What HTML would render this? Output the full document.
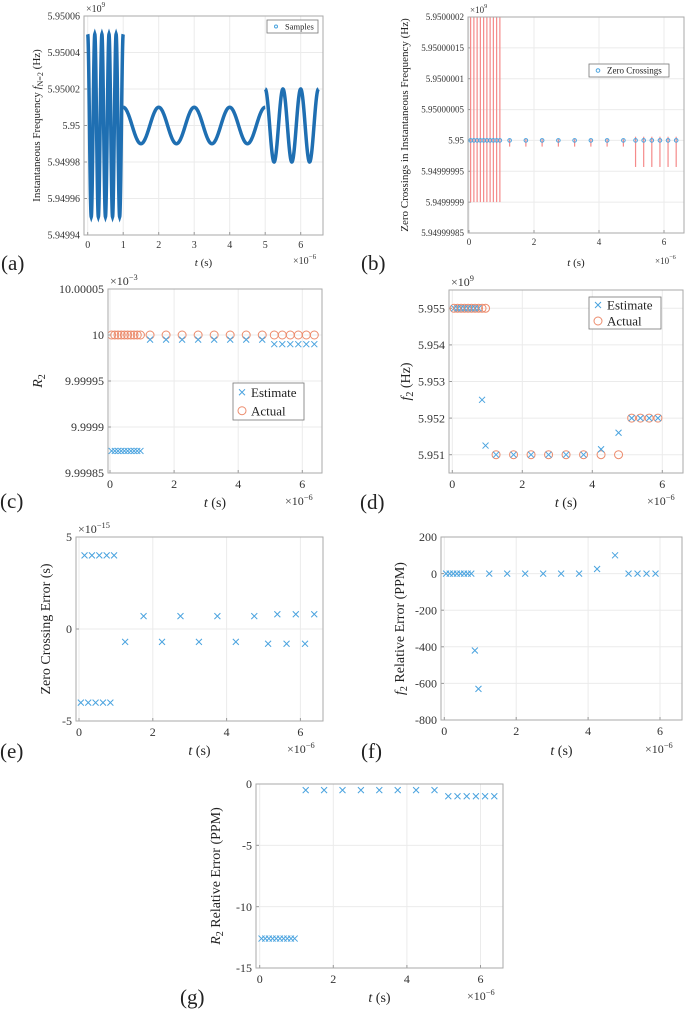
<!DOCTYPE html>
<html><head><meta charset="utf-8"><style>
body{margin:0;background:#fff;}
svg{display:block;font-family:"Liberation Serif",serif;}
</style></head><body>
<svg id="fig" width="685" height="1013" viewBox="0 0 685 1013" xmlns="http://www.w3.org/2000/svg"></svg>
<script>
// ---------- data ----------
// (a) instantaneous frequency segments (offset from 5.95e9, units 1e-5 x1e9)
const aSegStart=[0,1,5];
const aSegEnd=[1,5,6.5];
const aSegPeriod=[0.2,1,0.5];
const aSegAmp=[5,1,2];
// zero crossing times (x1e-6 s)
const tFirst=[0.05,0.15,0.25,0.35,0.45,0.55,0.65,0.75,0.85,0.95];
const tMid=[1.25,1.75,2.25,2.75,3.25,3.75,4.25,4.75];
const tLast=[5.125,5.375,5.625,5.875,6.125,6.375];
// (b) error bar extents (units 1e-8 x1e9 offset from 5.95)
const bLow=[-10,-10,-10,-10,-10,-10,-10,-10,-10,-10,-1,-1,-1,-1,-1,-1,-1,-1,-4.3,-4.3,-4.3,-4.3,-4.3,-4.3];
const bHigh=[30,30,30,30,30,30,30,30,30,30,0.2,0.2,0.2,0.2,0.2,0.2,0.2,0.2,0.6,0.6,0.6,0.6,0.6,0.6];
// (c) R2 (offset from 10e-3, units 1e-5 x1e-3)
const cEst=[-12.6,-12.6,-12.6,-12.6,-12.6,-12.6,-12.6,-12.6,-12.6,-12.6,-0.5,-0.5,-0.5,-0.5,-0.5,-0.5,-0.5,-0.5,-1,-1,-1,-1,-1,-1];
const cAct=[0,0,0,0,0,0,0,0,0,0,0,0,0,0,0,0,0,0,0,0,0,0,0,0];
// (d) f2 (offset 5.95, units 1e-3 x1e9)
const dT=[0.05,0.15,0.25,0.35,0.45,0.55,0.65,0.75,0.85,0.95,1.25,1.75,2.25,2.75,3.25,3.75,4.25,4.75,5.125,5.375,5.625,5.875];
const dEst=[5,5,5,5,5,5,5,5,2.5,1.25,1,1,1,1,1,1,1.15,1.6,2,2,2,2];
const dAct=[5,5,5,5,5,5,5,5,5,5,1,1,1,1,1,1,1,1,2,2,2,2];
// (e) zero crossing error (x1e-15)
const eT=[0.05,0.15,0.25,0.35,0.45,0.55,0.65,0.75,0.85,0.95,1.25,1.75,2.25,2.75,3.25,3.75,4.25,4.75,5.125,5.375,5.625,5.875,6.125,6.375];
const eVal=[-4,4,-4,4,-4,4,-4,4,-4,4,-0.7,0.7,-0.7,0.7,-0.7,0.7,-0.7,0.7,-0.8,0.8,-0.8,0.8,-0.8,0.8];
// (f) f2 relative error PPM
const fVal=[0,0,0,0,0,0,0,0,-420,-630,0,0,0,0,0,0,25,100,0,0,0,0];
// (g) R2 relative error PPM
const gVal=[-12.6,-12.6,-12.6,-12.6,-12.6,-12.6,-12.6,-12.6,-12.6,-12.6,-0.5,-0.5,-0.5,-0.5,-0.5,-0.5,-0.5,-0.5,-1,-1,-1,-1,-1,-1];

const NS="http://www.w3.org/2000/svg";
const svg=document.getElementById('fig');
function mk(tag,attrs,parent,txt){const e=document.createElementNS(NS,tag);for(const k in attrs)e.setAttribute(k,attrs[k]);if(txt!==undefined)e.textContent=txt;(parent||svg).appendChild(e);return e;}
const BLUE="#4aa3df", ORANGE="#ec8b6c";

function panel(p){
  const g=mk('g',{});
  
  
  const X=v=>p.x0+(v)*p.xs;
  const Y=v=>p.t+(p.ymax-v)/(p.ymax-p.ymin)*(p.b-p.t);
  mk('rect',{x:p.l,y:p.t,width:p.r-p.l,height:p.b-p.t,fill:'#fff'},g);
  p.xticks.forEach(v=>{const x=X(v);
    const gl=mk('line',{x1:x,x2:x,y1:p.t,y2:p.b,stroke:'#ebebeb','stroke-width':1},g);
    
    const tl=mk('text',{x:x,y:p.b+p.fs+3,'text-anchor':'middle','font-size':p.fs,fill:'#333'},g,String(v));
    
    mk('line',{x1:x,x2:x,y1:p.b,y2:p.b-3,stroke:'#999'},g);
  });
  p.yticks.forEach((v,i)=>{const y=Y(v);
    const gl=mk('line',{x1:p.l,x2:p.r,y1:y,y2:y,stroke:'#ebebeb','stroke-width':1},g);
    
    const tl=mk('text',{x:p.l-4,y:y+p.fs*0.35,'text-anchor':'end','font-size':p.fs,fill:'#333'},g,p.ylabels[i]);
    
    mk('line',{x1:p.l,x2:p.l+3,y1:y,y2:y,stroke:'#999'},g);
  });
  const clipId='clip'+p.name;
  const cp=mk('clipPath',{id:clipId},g);mk('rect',{x:p.l,y:p.t,width:p.r-p.l,height:p.b-p.t},cp);
  const data=mk('g',{'clip-path':'url(#'+clipId+')'},g);
  p.draw(data,X,Y);
  mk('rect',{x:p.l,y:p.t,width:p.r-p.l,height:p.b-p.t,fill:'none',stroke:'#aaa','stroke-width':1},g);
  // exponent labels
  if(p.yexp){const t=mk('text',{x:p.l+2,y:p.t-4,'font-size':p.fs,fill:'#333'},g);
    
    mk('tspan',{},t,'×10');mk('tspan',{dy:-5,'font-size':p.fs*0.7},t,p.yexp);}
  const xe=mk('text',{x:p.xexpX,y:p.xlabY-2,'font-size':p.fs,fill:'#333'},g);
  
  mk('tspan',{},xe,'×10');mk('tspan',{dy:-5,'font-size':p.fs*0.7},xe,'−6');
  const xl=mk('text',{x:(p.l+p.r)/2,y:p.xlabY,'text-anchor':'middle','font-size':p.lfs,fill:'#222'},g);
  
  mk('tspan',{'font-style':'italic'},xl,'t');mk('tspan',{},xl,' (s)');
  const yl=mk('text',{x:0,y:0,'text-anchor':'middle','font-size':p.lfs,fill:'#222',transform:`translate(${p.ylabX},${(p.t+p.b)/2}) rotate(-90)`},g);
  
  p.ylab(yl);
  const pl=mk('text',{x:p.pX,y:p.pY,'font-size':21,fill:'#222'},g,p.plabel);
  
  if(p.legend)p.legend(g);
}
function cross(par,x,y,s){const c=mk('path',{d:`M${x-s} ${y-s}L${x+s} ${y+s}M${x-s} ${y+s}L${x+s} ${y-s}`,stroke:BLUE,'stroke-width':1,fill:'none'},par);
  return c;}
function circ(par,x,y,r,col){const c=mk('circle',{cx:x,cy:y,r:r,stroke:col,'stroke-width':1,fill:'none'},par);
  return c;}
const tAll=tFirst.concat(tMid,tLast);
function legendBox(g,x,y,w,h,items,fs){
  const lg=mk('g',{},g);
  mk('rect',{x:x,y:y,width:w,height:h,fill:'#fff',stroke:'#777','stroke-width':0.8},lg);
  items.forEach((it,i)=>{const cy=y+h/items.length*(i+0.5);
    if(it.type==='x')cross(lg,x+9,cy,3);else circ(lg,x+9,cy,it.r||4,it.col);
    const t=mk('text',{x:x+18,y:cy+fs*0.35,'font-size':fs,fill:'#222'},lg,it.label);
    });
}

// (a)
panel({name:'panel-a',l:84,r:323,t:16,b:235,x0:87.7,xs:35.5,ymin:-6,ymax:6,fs:10,lfs:11,
  xticks:[0,1,2,3,4,5,6],yticks:[-6,-4,-2,0,2,4,6],
  ylabels:['5.94994','5.94996','5.94998','5.95','5.95002','5.95004','5.95006'],yexp:'9',
  xexpX:293,xlabY:266,ylabX:40,pX:1,pY:270,plabel:'(a)',
  ylab:t=>{mk('tspan',{},t,'Instantaneous Frequency ');mk('tspan',{'font-style':'italic'},t,'f');mk('tspan',{dy:3,'font-size':8},t,'N=2');mk('tspan',{dy:-3},t,' (Hz)');},
  draw:(par,X,Y)=>{aSegStart.forEach((s,i)=>{let d='';const n=400;
      for(let k=0;k<=n;k++){const tt=s+(aSegEnd[i]-s)*k/n;const v=aSegAmp[i]*Math.cos(2*Math.PI*(tt-s)/aSegPeriod[i]);
        d+=(k?'L':'M')+X(tt).toFixed(2)+' '+Y(v).toFixed(2);}
      const pth=mk('path',{d:d,stroke:'#1f6fb2','stroke-width':3.5,fill:'none'},par);
      });},
  legend:g=>{legendBox(g,267,20,51,13,[{type:'o',col:BLUE,r:1.5,label:'Samples'}],8.5);}
});
// (b)
panel({name:'panel-b',l:468,r:684,t:17,b:233,x0:469,xs:32.5,ymin:-15,ymax:20,fs:9,lfs:11,
  xticks:[0,2,4,6],yticks:[-15,-10,-5,0,5,10,15,20],
  ylabels:['5.94999985','5.9499999','5.94999995','5.95','5.95000005','5.9500001','5.95000015','5.9500002'],yexp:'9',
  xexpX:655,xlabY:266,ylabX:408,pX:361,pY:270,plabel:'(b)',
  ylab:t=>{t.textContent='Zero Crossings in Instantaneous Frequency (Hz)';},
  draw:(par,X,Y)=>{tAll.forEach((tt,i)=>{const l=mk('line',{x1:X(tt),x2:X(tt),y1:Y(bLow[i]),y2:Y(bHigh[i]),stroke:'#f58a8a','stroke-width':1.2},par);
      
      const c=circ(par,X(tt),Y(0),1.8,BLUE);});},
  legend:g=>{legendBox(g,589,64,80,13,[{type:'o',col:BLUE,r:1.8,label:'Zero Crossings'}],9);}
});
// (c)
panel({name:'panel-c',l:108,r:322,t:289,b:473,x0:110,xs:32.05,ymin:-15,ymax:5,fs:12,lfs:14,
  xticks:[0,2,4,6],yticks:[-15,-10,-5,0,5],
  ylabels:['9.99985','9.9999','9.99995','10','10.00005'],yexp:'−3',
  xexpX:285,xlabY:507,ylabX:42,pX:0,pY:508,plabel:'(c)',
  ylab:t=>{mk('tspan',{'font-style':'italic'},t,'R');mk('tspan',{dy:3,'font-size':10},t,'2');},
  draw:(par,X,Y)=>{tAll.forEach((tt,i)=>{circ(par,X(tt),Y(cAct[i]),4,ORANGE);cross(par,X(tt),Y(cEst[i]),3);});},
  legend:g=>{legendBox(g,233,383,71,37,[{type:'x',label:'Estimate'},{type:'o',col:ORANGE,label:'Actual'}],13);}
});
// (d)
panel({name:'panel-d',l:449,r:683,t:290,b:473,x0:452.3,xs:35,ymin:0.5,ymax:5.5,fs:12,lfs:14,
  xticks:[0,2,4,6],yticks:[1,2,3,4,5],
  ylabels:['5.951','5.952','5.953','5.954','5.955'],yexp:'9',
  xexpX:647,xlabY:507,ylabX:410,pX:360,pY:509,plabel:'(d)',
  ylab:t=>{mk('tspan',{'font-style':'italic'},t,'f');mk('tspan',{dy:3,'font-size':10},t,'2');mk('tspan',{dy:-3},t,' (Hz)');},
  draw:(par,X,Y)=>{dT.forEach((tt,i)=>{circ(par,X(tt),Y(dAct[i]),4,ORANGE);cross(par,X(tt),Y(dEst[i]),3);});},
  legend:g=>{legendBox(g,589,297,72,32,[{type:'x',label:'Estimate'},{type:'o',col:ORANGE,label:'Actual'}],13);}
});
// (e)
panel({name:'panel-e',l:76,r:323,t:537,b:721,x0:79,xs:36.9,ymin:-5,ymax:5,fs:12,lfs:14,
  xticks:[0,2,4,6],yticks:[-5,0,5],ylabels:['-5','0','5'],yexp:'−15',
  xexpX:287,xlabY:755,ylabX:50,pX:0,pY:758,plabel:'(e)',
  ylab:t=>{t.textContent='Zero Crossing Error (s)';},
  draw:(par,X,Y)=>{eT.forEach((tt,i)=>cross(par,X(tt),Y(eVal[i]),3));}
});
// (f)
panel({name:'panel-f',l:441,r:682,t:537,b:720,x0:444.3,xs:35.95,ymin:-800,ymax:200,fs:12,lfs:14,
  xticks:[0,2,4,6],yticks:[-800,-600,-400,-200,0,200],ylabels:['-800','-600','-400','-200','0','200'],
  xexpX:645,xlabY:755,ylabX:404,pX:361,pY:758,plabel:'(f)',
  ylab:t=>{mk('tspan',{'font-style':'italic'},t,'f');mk('tspan',{dy:3,'font-size':10},t,'2');mk('tspan',{dy:-3},t,' Relative Error (PPM)');},
  draw:(par,X,Y)=>{dT.forEach((tt,i)=>cross(par,X(tt),Y(fVal[i]),3));}
});
// (g)
panel({name:'panel-g',l:256,r:503,t:784,b:968,x0:259.7,xs:36.8,ymin:-15,ymax:0,fs:12,lfs:14,
  xticks:[0,2,4,6],yticks:[-15,-10,-5,0],ylabels:['-15','-10','-5','0'],
  xexpX:467,xlabY:1002,ylabX:220,pX:180,pY:1004,plabel:'(g)',
  ylab:t=>{mk('tspan',{'font-style':'italic'},t,'R');mk('tspan',{dy:3,'font-size':10},t,'2');mk('tspan',{dy:-3},t,' Relative Error (PPM)');},
  draw:(par,X,Y)=>{tAll.forEach((tt,i)=>cross(par,X(tt),Y(gVal[i]),3));}
});
</script>
</body></html>
